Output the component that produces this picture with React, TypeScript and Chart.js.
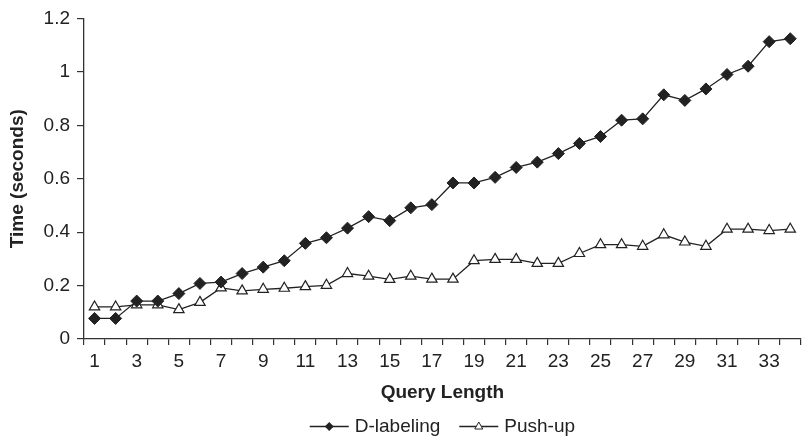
import React, { useEffect, useRef } from "react";
import { Chart, registerables } from "chart.js";

Chart.register(...registerables);

const categories: string[] = Array.from({ length: 34 }, (_, i) => String(i + 1));

const dLabeling: number[] = [
  0.077, 0.077, 0.142, 0.142, 0.170, 0.208, 0.213, 0.245, 0.269, 0.293,
  0.358, 0.379, 0.415, 0.458, 0.443, 0.491, 0.503, 0.584, 0.584, 0.605,
  0.642, 0.662, 0.694, 0.732, 0.758, 0.819, 0.824, 0.914, 0.893, 0.936,
  0.990, 1.021, 1.113, 1.124,
];

const pushUp: number[] = [
  0.120, 0.120, 0.128, 0.128, 0.110, 0.137, 0.191, 0.180, 0.186, 0.190,
  0.196, 0.201, 0.245, 0.235, 0.223, 0.235, 0.224, 0.224, 0.293, 0.298,
  0.298, 0.283, 0.283, 0.320, 0.353, 0.353, 0.347, 0.390, 0.363, 0.347,
  0.411, 0.411, 0.406, 0.411,
];

const yTicks: number[] = [0, 0.2, 0.4, 0.6, 0.8, 1, 1.2];

const FONT = "'Liberation Sans', Arial, sans-serif";
const FONT_SIZE = 19;
const INK = "#222";

const legendPlugin = {
  id: "lineMarkerLegend",
  afterDraw(chart: any) {
    const { ctx, chartArea } = chart;
    const datasets = chart.data.datasets;
    const lineW = 39;
    const gap = 6;
    const itemGap = 19;
    ctx.save();
    ctx.font = `${FONT_SIZE}px ${FONT}`;
    const widths = datasets.map((ds: any) => lineW + gap + ctx.measureText(ds.label).width);
    const total = widths.reduce((a: number, b: number) => a + b, 0) + itemGap * (datasets.length - 1);
    let x = (chartArea.left + chartArea.right) / 2 - total / 2;
    const y = chart.height - 9.5;
    datasets.forEach((ds: any, i: number) => {
      ctx.strokeStyle = INK;
      ctx.lineWidth = 1.3;
      ctx.beginPath();
      ctx.moveTo(x, y);
      ctx.lineTo(x + lineW, y);
      ctx.stroke();
      const cx = x + lineW / 2;
      if (ds.pointStyle === "rectRot") {
        ctx.fillStyle = INK;
        ctx.beginPath();
        ctx.moveTo(cx, y - 4.5);
        ctx.lineTo(cx + 4.5, y);
        ctx.lineTo(cx, y + 4.5);
        ctx.lineTo(cx - 4.5, y);
        ctx.closePath();
        ctx.fill();
      } else {
        ctx.fillStyle = "#fff";
        ctx.lineWidth = 1;
        ctx.beginPath();
        ctx.moveTo(cx, y - 4.5);
        ctx.lineTo(cx + 4, y + 2.5);
        ctx.lineTo(cx - 4, y + 2.5);
        ctx.closePath();
        ctx.fill();
        ctx.stroke();
      }
      ctx.fillStyle = INK;
      ctx.textAlign = "left";
      ctx.textBaseline = "middle";
      ctx.fillText(ds.label, x + lineW + gap, y);
      x += widths[i] + itemGap;
    });
    ctx.restore();
  },
};

export default function App() {
  const ref = useRef<HTMLCanvasElement | null>(null);

  useEffect(() => {
    if (!ref.current) return;
    const chart = new Chart(ref.current, {
      type: "line",
      plugins: [legendPlugin],
      data: {
        labels: categories,
        datasets: [
          {
            label: "D-labeling",
            data: dLabeling,
            borderColor: INK,
            backgroundColor: INK,
            borderWidth: 1.3,
            pointStyle: "rectRot",
            pointRadius: 6,
            pointBackgroundColor: INK,
            pointBorderColor: INK,
            pointBorderWidth: 1,
            tension: 0,
          },
          {
            label: "Push-up",
            data: pushUp,
            borderColor: INK,
            backgroundColor: "#fff",
            borderWidth: 1.3,
            pointStyle: "triangle",
            pointRadius: 6,
            pointBackgroundColor: "#fff",
            pointBorderColor: INK,
            pointBorderWidth: 1.2,
            tension: 0,
          },
        ],
      },
      options: {
        animation: false,
        responsive: false,
        devicePixelRatio: 1,
        layout: { padding: { top: 18, left: 0, right: 0, bottom: 31.6 } },
        plugins: {
          tooltip: { enabled: false },
          legend: { display: false },
        },
        scales: {
          x: {
            type: "category",
            offset: true,
            afterFit: (scale: any) => {
              scale.height = 65.4;
            },
            grid: {
              drawOnChartArea: false,
              offset: true,
              tickLength: 6,
              color: "#333",
              lineWidth: 1.2,
            },
            border: { color: "#333", width: 1.3 },
            ticks: {
              autoSkip: false,
              maxRotation: 0,
              color: INK,
              font: { family: FONT, size: FONT_SIZE },
              padding: 5,
              callback: (_v: any, i: number) => (i % 2 === 0 ? categories[i] : ""),
            },
            title: {
              display: true,
              text: "Query Length",
              color: INK,
              font: { family: FONT, size: FONT_SIZE, weight: "bold" },
              padding: { top: 4, bottom: 0 },
            },
          },
          y: {
            min: 0,
            max: 1.2,
            afterBuildTicks: (scale: any) => {
              scale.ticks = yTicks.map((v) => ({ value: v }));
            },
            afterFit: (scale: any) => {
              scale.width = 84;
            },
            grid: {
              drawOnChartArea: false,
              tickLength: 7,
              color: "#333",
              lineWidth: 1.2,
            },
            border: { color: "#333", width: 1.3 },
            ticks: {
              color: INK,
              font: { family: FONT, size: FONT_SIZE },
              padding: 7,
              callback: (v: any) => String(Number(Number(v).toFixed(1))),
            },
            title: {
              display: true,
              text: "Time (seconds)",
              color: INK,
              font: { family: FONT, size: FONT_SIZE, weight: "bold" },
              padding: { top: 6.6, bottom: 4 },
            },
          },
        },
      },
    });
    return () => chart.destroy();
  }, []);

  return (
    <div style={{ position: "fixed", left: 0, top: 0, width: 804, height: 436, overflow: "hidden", background: "#fff" }}>
      <canvas ref={ref} width={808} height={436} style={{ display: "block", width: 808, height: 436 }} />
    </div>
  );
}
